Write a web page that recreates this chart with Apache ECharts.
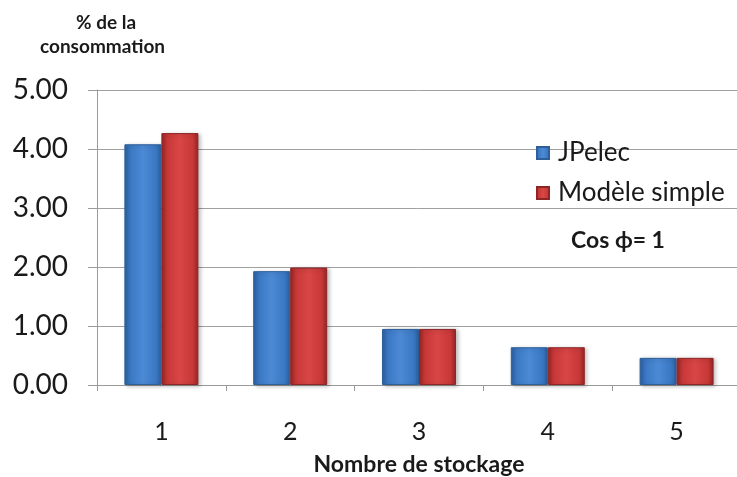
<!DOCTYPE html>
<html><head><meta charset="utf-8">
<script src="https://cdn.jsdelivr.net/npm/echarts@6/dist/echarts.min.js"></script>
<style>html,body{margin:0;padding:0;background:#fff}#c{width:737px;height:477px}</style>
</head><body><div id="c"></div>
<script>
const categories = ['1','2','3','4','5'];
const jpelec = [4.08, 1.93, 0.95, 0.64, 0.46];
const modele = [4.27, 1.99, 0.95, 0.64, 0.46];
const yTicks = ['0.00','1.00','2.00','3.00','4.00','5.00'];

const font = 'Lato, "Open Sans", sans-serif';
function grad(dark, mid, light){
  return new echarts.graphic.LinearGradient(0,0,1,0,[
    {offset:0,color:dark},{offset:0.15,color:mid},{offset:0.5,color:light},{offset:0.85,color:mid},{offset:1,color:dark}
  ]);
}
const chart = echarts.init(document.getElementById('c'));
chart.setOption({
  animation:false,
  grid:{left:97,right:-4,top:90,bottom:92,containLabel:false,outerBoundsMode:'none'},
  xAxis:{type:'category',data:categories,
    axisLine:{lineStyle:{color:'#9a9a9a',width:1}},
    axisTick:{show:true,length:6,lineStyle:{color:'#9a9a9a'}},
    axisLabel:{fontSize:25,color:'#1a1a1a',fontFamily:font,margin:34},
    name:'Nombre de stockage',nameLocation:'middle',nameGap:68,
    nameTextStyle:{fontSize:23,fontWeight:'bold',color:'#1a1a1a',fontFamily:font}
  },
  yAxis:{type:'value',min:0,max:5,interval:1,
    axisLine:{show:true,lineStyle:{color:'#9a9a9a'}},
    axisTick:{show:true,length:9,lineStyle:{color:'#9a9a9a'}},
    splitLine:{lineStyle:{color:'#a0a0a0'}},
    axisLabel:{fontSize:28,color:'#1a1a1a',fontFamily:font,margin:29,
      formatter:(v)=>yTicks[Math.round(v)]}
  },
  legend:{orient:'vertical',left:531,top:135,itemGap:14,itemWidth:12,itemHeight:12,
    textStyle:{fontSize:26,color:'#1a1a1a',fontFamily:font,padding:[0,0,0,4]},
    data:[{name:'JPelec',icon:'rect'},{name:'Modèle simple',icon:'rect'}]},
  graphic:[
    {type:'text',left:76,top:13,style:{text:'% de la',font:'bold 19px '+font,fill:'#1a1a1a'}},
    {type:'text',left:40,top:37,style:{text:'consommation',font:'bold 19px '+font,fill:'#1a1a1a'}},
    {type:'text',left:571,top:229,style:{text:'Cos ϕ= 1',font:'bold 23px '+font,fill:'#1a1a1a'}}
  ],
  series:[
    {name:'JPelec',type:'bar',data:jpelec,barWidth:37,barGap:'0%',
     itemStyle:{color:grad('#2c5f9e','#3a78c4','#4d8ad6'),borderColor:'#2f5f98',borderWidth:1,
       shadowColor:'rgba(0,0,0,0.25)',shadowBlur:4,shadowOffsetX:2,shadowOffsetY:1}},
    {name:'Modèle simple',type:'bar',data:modele,barWidth:37,
     itemStyle:{color:grad('#962424','#c73838','#d94646'),borderColor:'#8e2626',borderWidth:1,
       shadowColor:'rgba(0,0,0,0.25)',shadowBlur:4,shadowOffsetX:2,shadowOffsetY:1}}
  ]
});
</script></body></html>
